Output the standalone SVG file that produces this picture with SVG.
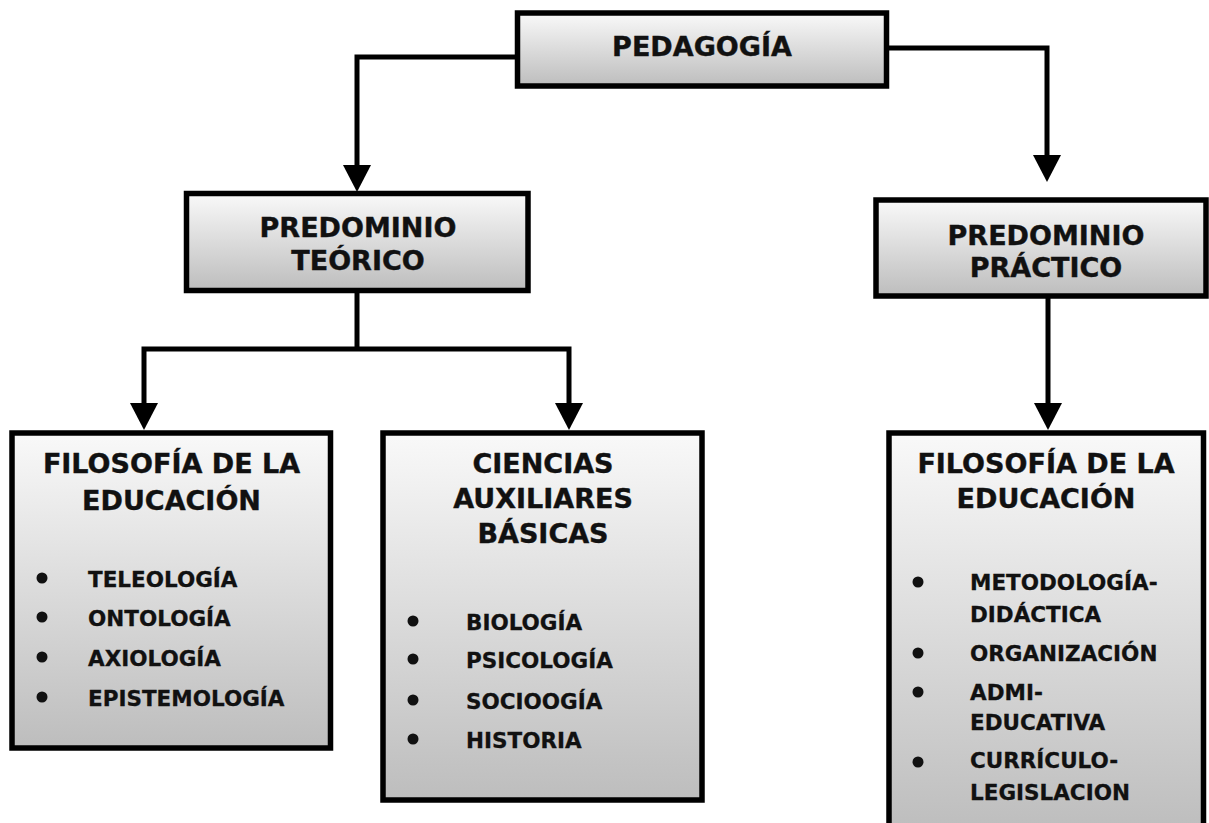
<svg xmlns="http://www.w3.org/2000/svg" width="1209" height="823" viewBox="0 0 1209 823">
<style>
.box{fill:url(#g);stroke:#000;stroke-width:5.5}
.h{font-family:"DejaVu Sans","Verdana",sans-serif;font-weight:bold;font-size:27px;fill:#111;stroke:#111;stroke-width:0.4;text-anchor:middle}
.li{font-family:"DejaVu Sans","Verdana",sans-serif;font-weight:bold;font-size:21.5px;fill:#111;stroke:#111;stroke-width:0.3}
.b{fill:#111}
.c{fill:none;stroke:#000;stroke-width:5;stroke-linejoin:miter}
.ah{fill:#000}
</style>
<defs>
<linearGradient id="g" x1="0" y1="0" x2="0" y2="1">
<stop offset="0" stop-color="#f9f9f9"/>
<stop offset="1" stop-color="#bdbdbd"/>
</linearGradient>
</defs>
<g id="connectors">
<polyline class="c" points="517,57 357,57 357,165"/>
<polygon class="ah" points="343,165 371,165 357,192"/>
<polyline class="c" points="887,48 1047,48 1047,156"/>
<polygon class="ah" points="1033,155 1061,155 1047,182"/>
<polyline class="c" points="357,292 357,349"/>
<polyline class="c" points="144,404 144,349 569,349 569,404"/>
<polygon class="ah" points="130,403 158,403 144,430"/>
<polygon class="ah" points="555,403 583,403 569,430"/>
<polyline class="c" points="1048,297 1048,404"/>
<polygon class="ah" points="1034,403 1062,403 1048,430"/>
</g>
<g id="pedagogia">
<rect class="box" x="517.5" y="13" width="369" height="73"/>
<text class="h" x="702" y="56">PEDAGOGÍA</text>
</g>
<g id="predominio-teorico">
<rect class="box" x="186.5" y="193.5" width="341.5" height="97"/>
<text class="h" x="358" y="237">PREDOMINIO</text>
<text class="h" x="358" y="270">TEÓRICO</text>
</g>
<g id="predominio-practico">
<rect class="box" x="876" y="200" width="330" height="96"/>
<text class="h" x="1046" y="245">PREDOMINIO</text>
<text class="h" x="1046" y="277">PRÁCTICO</text>
</g>
<g id="filosofia-teorico">
<rect class="box" x="12" y="433" width="318.5" height="315"/>
<text class="h" x="171.5" y="473">FILOSOFÍA DE LA</text>
<text class="h" x="171.5" y="510">EDUCACIÓN</text>
<circle class="b" cx="42" cy="578" r="5.5"/>
<text class="li" x="88" y="587">TELEOLOGÍA</text>
<circle class="b" cx="42" cy="617" r="5.5"/>
<text class="li" x="88" y="626">ONTOLOGÍA</text>
<circle class="b" cx="42" cy="657" r="5.5"/>
<text class="li" x="88" y="666">AXIOLOGÍA</text>
<circle class="b" cx="42" cy="697" r="5.5"/>
<text class="li" x="88" y="706">EPISTEMOLOGÍA</text>
</g>
<g id="ciencias">
<rect class="box" x="383" y="433" width="319" height="367"/>
<text class="h" x="543" y="473">CIENCIAS</text>
<text class="h" x="543" y="508">AUXILIARES</text>
<text class="h" x="543" y="543">BÁSICAS</text>
<circle class="b" cx="413" cy="621" r="5.5"/>
<text class="li" x="466" y="630">BIOLOGÍA</text>
<circle class="b" cx="413" cy="659" r="5.5"/>
<text class="li" x="466" y="668">PSICOLOGÍA</text>
<circle class="b" cx="413" cy="700" r="5.5"/>
<text class="li" x="466" y="709">SOCIOOGÍA</text>
<circle class="b" cx="413" cy="739" r="5.5"/>
<text class="li" x="466" y="748">HISTORIA</text>
</g>
<g id="filosofia-practico">
<rect class="box" x="889" y="433" width="314.5" height="400"/>
<text class="h" x="1046" y="473">FILOSOFÍA DE LA</text>
<text class="h" x="1046" y="508">EDUCACIÓN</text>
<circle class="b" cx="918" cy="582" r="5.5"/>
<text class="li" x="970" y="590">METODOLOGÍA-</text>
<text class="li" x="970" y="622">DIDÁCTICA</text>
<circle class="b" cx="918" cy="653" r="5.5"/>
<text class="li" x="970" y="661">ORGANIZACIÓN</text>
<circle class="b" cx="918" cy="692" r="5.5"/>
<text class="li" x="970" y="700">ADMI-</text>
<text class="li" x="970" y="730">EDUCATIVA</text>
<circle class="b" cx="918" cy="762" r="5.5"/>
<text class="li" x="970" y="768">CURRÍCULO-</text>
<text class="li" x="970" y="800">LEGISLACION</text>
</g>
</svg>
